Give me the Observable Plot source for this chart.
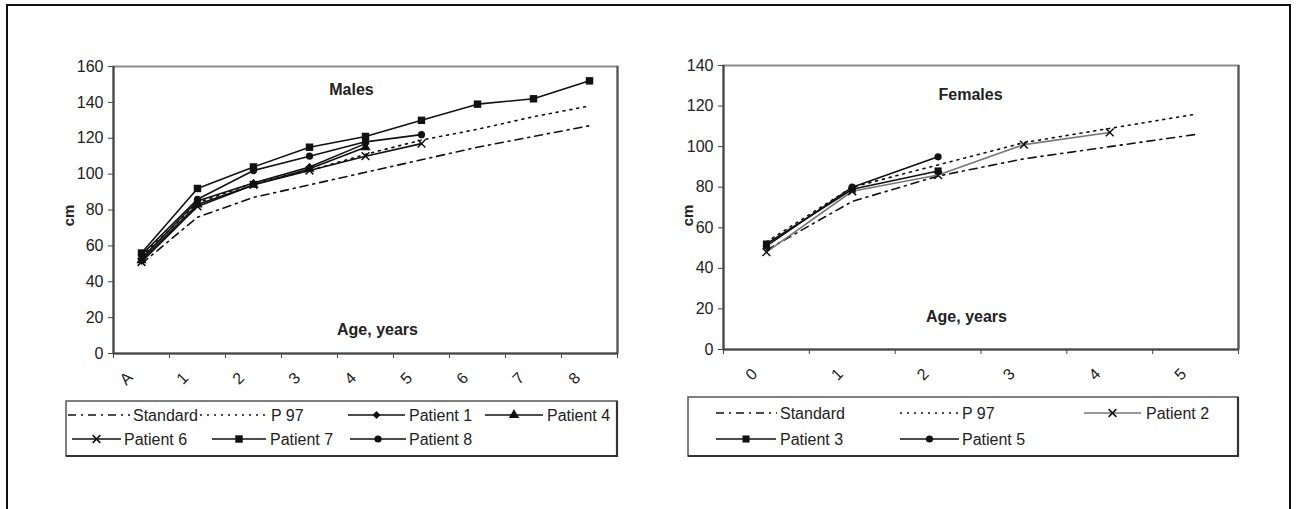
<!DOCTYPE html>
<html>
<head>
<meta charset="utf-8">
<script src="https://cdn.jsdelivr.net/npm/d3@7"></script>
<script src="https://cdn.jsdelivr.net/npm/@observablehq/plot@0.6"></script>
<style>
  html, body { margin: 0; padding: 0; background: #fff; }
  body { width: 1296px; height: 509px; overflow: hidden; position: relative; font-family: "Liberation Sans", Arial, sans-serif; }
  #frame { position: absolute; left: 6px; top: 4px; width: 1281px; height: 520px; border: 2px solid #111; }
  #males { position: absolute; left: 40px; top: 50px; }
  #females { position: absolute; left: 660px; top: 50px; }
  #legends { position: absolute; left: 0; top: 0; }
</style>
</head>
<body>
<div id="frame"></div>
<div id="males"></div>
<div id="females"></div>
<div id="legends"></div>
<script>
// ---------- data ----------
const maleAges = ["A", "1", "2", "3", "4", "5", "6", "7", "8"];
const maleYTicks = [0, 20, 40, 60, 80, 100, 120, 140, 160];
const maleStandard = [50, 76, 87, 94, 101, 108, 115, 121, 127];
const maleP97 = [54, 84, 95, 102, 111, 119, 125, 132, 138];
const malePatient1 = [53, 85, 95, 104, 117];
const malePatient4 = [52, 83, 94, 103, 115];
const malePatient6 = [51, 82, 94, 102, 110, 117];
const malePatient7 = [56, 92, 104, 115, 121, 130, 139, 142, 152];
const malePatient8 = [55, 86, 102, 110, 118, 122];

const femaleAges = ["0", "1", "2", "3", "4", "5"];
const femaleYTicks = [0, 20, 40, 60, 80, 100, 120, 140];
const femaleStandard = [49, 73, 85.5, 94, 100, 106];
const femaleP97 = [53, 80, 91, 102, 109, 116];
const femalePatient2 = [48, 78, 86, 101, 107];
const femalePatient3 = [52, 79, 88];
const femalePatient5 = [51, 80, 95];

const maleSeries = [
  ["Standard", maleStandard], ["P 97", maleP97], ["Patient 1", malePatient1], ["Patient 4", malePatient4],
  ["Patient 6", malePatient6], ["Patient 7", malePatient7], ["Patient 8", malePatient8]
];
const femaleSeries = [
  ["Standard", femaleStandard], ["P 97", femaleP97], ["Patient 2", femalePatient2],
  ["Patient 3", femalePatient3], ["Patient 5", femalePatient5]
];

// ---------- styles ----------
const INK = "#111";
const styles = {
  "Standard": {dash: "8,5,2,5", stroke: INK},
  "P 97": {dash: "2,5", stroke: INK},
  "Patient 1": {symbol: "diamond2", r: 3.6, stroke: INK},
  "Patient 4": {symbol: "triangle", r: 3.8, stroke: INK},
  "Patient 6": {symbol: "times", r: 3.6, stroke: INK},
  "Patient 7": {symbol: "square", r: 4.2, stroke: INK},
  "Patient 8": {symbol: "circle", r: 3.6, stroke: INK},
  "Patient 2": {symbol: "times", r: 3.6, stroke: "#777"},
  "Patient 3": {symbol: "square", r: 4.0, stroke: INK},
  "Patient 5": {symbol: "circle", r: 3.6, stroke: INK}
};
const FONT = '"Liberation Sans", Arial, sans-serif';

const rows = values => values.map((v, i) => ({i, v}));

function seriesMarks(series) {
  const marks = [];
  for (const [name, values] of series) {
    const s = styles[name];
    marks.push(Plot.line(rows(values), {x: "i", y: "v", stroke: s.stroke, strokeWidth: 1.6,
      strokeDasharray: s.dash || null}));
  }
  for (const [name, values] of series) {
    const s = styles[name];
    if (!s.symbol) continue;
    if (s.symbol === "times") {
      marks.push(Plot.dot(rows(values), {x: "i", y: "v", symbol: "times", r: s.r, stroke: INK, strokeWidth: 1.5, fill: "none"}));
    } else {
      marks.push(Plot.dot(rows(values), {x: "i", y: "v", symbol: s.symbol, r: s.r, fill: INK, stroke: "none"}));
    }
  }
  return marks;
}

function chart({ages, yTicks, series, width, height, margins, title, titlePos, xTitlePos}) {
  const n = ages.length;
  const boundaries = d3.range(-0.5, n, 1);
  return Plot.plot({
    width, height,
    marginLeft: margins[0], marginRight: margins[1], marginTop: margins[2], marginBottom: margins[3],
    x: {domain: [-0.5, n - 0.5], axis: null},
    y: {domain: [0, yTicks[yTicks.length - 1]], axis: null},
    style: {fontFamily: FONT, fontSize: "16px", color: "#222", background: "transparent", overflow: "visible"},
    marks: [
      Plot.frame({stroke: "#8c8c8c", strokeWidth: 2}),
      Plot.ruleX([n - 0.5], {stroke: "#555", strokeWidth: 2}),
      Plot.ruleX([-0.5], {stroke: "#444", strokeWidth: 2}),
      Plot.ruleY([0], {stroke: "#444", strokeWidth: 2}),
      Plot.axisY(yTicks, {tickSize: 5, tickPadding: 5, label: null, fontSize: 16, stroke: "#444"}),
      Plot.axisX(boundaries, {tickSize: 5, tickFormat: () => "", label: null, stroke: "#444"}),
      Plot.text(ages, {x: (d, i) => i, frameAnchor: "bottom", dx: -15, dy: 25, rotate: -45,
        text: d => d, fontSize: 16, textAnchor: "middle", lineAnchor: "middle"}),
      Plot.text(["cm"], {frameAnchor: "top-left", dx: titlePos.cmDx, dy: titlePos.cmDy, rotate: -90,
        text: d => d, fontWeight: "bold", fontSize: 15, textAnchor: "middle", lineAnchor: "middle"}),
      Plot.text([title], {frameAnchor: "top-left", dx: titlePos.dx, dy: titlePos.dy, text: d => d,
        fontWeight: "bold", fontSize: 16, textAnchor: "middle", lineAnchor: "middle"}),
      Plot.text(["Age, years"], {frameAnchor: "bottom-left", dx: xTitlePos.dx, dy: xTitlePos.dy, text: d => d,
        fontWeight: "bold", fontSize: 16, textAnchor: "middle", lineAnchor: "middle"}),
      ...seriesMarks(series)
    ]
  });
}

document.getElementById("males").appendChild(chart({
  ages: maleAges, yTicks: maleYTicks, series: maleSeries,
  width: 600, height: 350, margins: [73, 23, 16, 47],
  title: "Males", titlePos: {dx: 238, dy: 23, cmDx: -44, cmDy: 149},
  xTitlePos: {dx: 264, dy: -24}
}));

document.getElementById("females").appendChild(chart({
  ages: femaleAges, yTicks: femaleYTicks, series: femaleSeries,
  width: 600, height: 350, margins: [63, 22, 15, 51],
  title: "Females", titlePos: {dx: 247, dy: 29, cmDx: -35, cmDy: 150},
  xTitlePos: {dx: 243, dy: -33}
}));

// ---------- legends ----------
const legendLayouts = [
  {box: [66, 401, 617, 456], items: [
    {name: "Standard", x1: 68, x2: 130, tx: 133, y: 415},
    {name: "P 97", x1: 200, x2: 268, tx: 271, y: 415},
    {name: "Patient 1", x1: 348, x2: 405, tx: 409, y: 415},
    {name: "Patient 4", x1: 485, x2: 543, tx: 547, y: 415},
    {name: "Patient 6", x1: 72, x2: 121, tx: 124, y: 439},
    {name: "Patient 7", x1: 212, x2: 266, tx: 270, y: 439},
    {name: "Patient 8", x1: 350, x2: 406, tx: 409, y: 439}
  ]},
  {box: [688, 397, 1238, 456], items: [
    {name: "Standard", x1: 716, x2: 777, tx: 780, y: 413},
    {name: "P 97", x1: 900, x2: 959, tx: 962, y: 413},
    {name: "Patient 2", x1: 1084, x2: 1141, tx: 1146, y: 413},
    {name: "Patient 3", x1: 716, x2: 776, tx: 780, y: 439},
    {name: "Patient 5", x1: 900, x2: 959, tx: 962, y: 439}
  ]}
];
const d3sym = {diamond2: d3.symbolDiamond2, triangle: d3.symbolTriangle, times: d3.symbolTimes,
  square: d3.symbolSquare, circle: d3.symbolCircle};

const lsvg = d3.select("#legends").append("svg")
  .attr("width", 1296).attr("height", 509)
  .style("font-family", FONT).style("font-size", "16px");
for (const lg of legendLayouts) {
  const [x0, y0, x1, y1] = lg.box;
  lsvg.append("rect").attr("x", x0).attr("y", y0).attr("width", x1 - x0).attr("height", y1 - y0)
    .attr("fill", "#fff").attr("stroke", "#555").attr("stroke-width", 1.5);
  lsvg.append("path").attr("d", `M${x1},${y0}V${y1}H${x0}`).attr("fill", "none")
    .attr("stroke", "#333").attr("stroke-width", 2.2);
  for (const it of lg.items) {
    const s = styles[it.name];
    lsvg.append("line").attr("x1", it.x1).attr("x2", it.x2).attr("y1", it.y).attr("y2", it.y)
      .attr("stroke", s.stroke).attr("stroke-width", 1.6).attr("stroke-dasharray", s.dash || null);
    if (s.symbol) {
      const size = Math.PI * s.r * s.r;
      const p = lsvg.append("path").attr("d", d3.symbol(d3sym[s.symbol], size)())
        .attr("transform", `translate(${(it.x1 + it.x2) / 2},${it.y})`);
      if (s.symbol === "times") p.attr("fill", "none").attr("stroke", INK).attr("stroke-width", 1.5);
      else p.attr("fill", INK);
    }
    lsvg.append("text").attr("x", it.tx).attr("y", it.y).attr("dy", "0.35em").attr("fill", "#222")
      .text(it.name);
  }
}
</script>
</body>
</html>
